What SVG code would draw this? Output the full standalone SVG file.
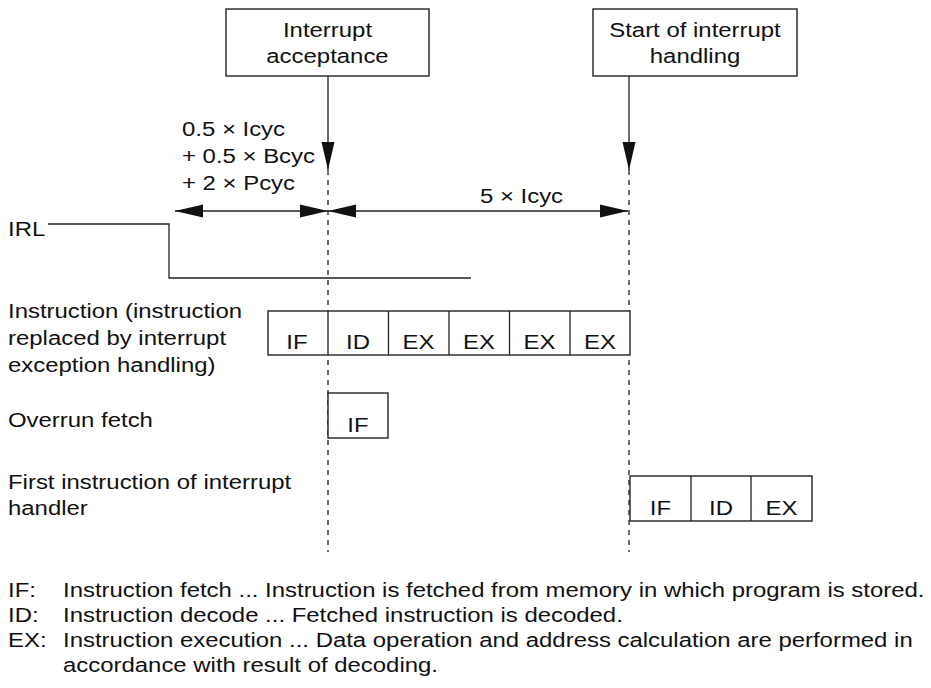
<svg xmlns="http://www.w3.org/2000/svg" width="931" height="688" viewBox="0 0 931 688">
<style>
text{font-family:"Liberation Sans",Arial,sans-serif;font-size:21px;fill:#111}
.m{text-anchor:middle}
.box{fill:#fff;stroke:#222;stroke-width:1.4}
.ln{fill:none;stroke:#222;stroke-width:1.3}
.dash{fill:none;stroke:#222;stroke-width:1.3;stroke-dasharray:5 5}
</style>
<defs>
<marker id="ah" markerUnits="userSpaceOnUse" markerWidth="30" markerHeight="14" refX="28" refY="7" orient="auto-start-reverse">
<path d="M0,0.5 L28,7 L0,13.5 z" fill="#111"/>
</marker>
</defs>
<g id="connectors">
<line class="ln" x1="328" y1="76" x2="328" y2="170" marker-end="url(#ah)"/>
<line class="ln" x1="629" y1="76" x2="629" y2="170" marker-end="url(#ah)"/>
<line class="dash" x1="328" y1="170" x2="328" y2="552"/>
<line class="dash" x1="629" y1="170" x2="629" y2="552"/>
<line class="ln" x1="175" y1="211" x2="328" y2="211" marker-start="url(#ah)" marker-end="url(#ah)"/>
<line class="ln" x1="328" y1="211" x2="628" y2="211" marker-start="url(#ah)" marker-end="url(#ah)"/>
<polyline id="irl-signal" class="ln" points="48,224 169,224 169,278 471,278"/>
</g>
<g id="interrupt-acceptance">
<rect class="box" x="226" y="9" width="203" height="67"/>
<text class="m" transform="translate(327.5,37) scale(1.14,1)">Interrupt</text>
<text class="m" transform="translate(327.5,63) scale(1.14,1)">acceptance</text>
</g>
<g id="start-of-handling">
<rect class="box" x="593" y="9" width="204" height="67"/>
<text class="m" transform="translate(695,37) scale(1.14,1)">Start of interrupt</text>
<text class="m" transform="translate(695,63) scale(1.14,1)">handling</text>
</g>
<g id="timing-labels">
<text transform="translate(182,136) scale(1.14,1)">0.5 × Icyc</text>
<text transform="translate(182,163) scale(1.14,1)">+ 0.5 × Bcyc</text>
<text transform="translate(182,190) scale(1.14,1)">+ 2 × Pcyc</text>
<text class="m" transform="translate(521.5,203) scale(1.14,1)">5 × Icyc</text>
</g>
<g id="row-labels">
<text transform="translate(8,236) scale(1.14,1)">IRL</text>
<text transform="translate(8,318) scale(1.14,1)">Instruction (instruction</text>
<text transform="translate(8,345) scale(1.14,1)">replaced by interrupt</text>
<text transform="translate(8,372) scale(1.14,1)">exception handling)</text>
<text transform="translate(8,427) scale(1.14,1)">Overrun fetch</text>
<text transform="translate(8,489) scale(1.14,1)">First instruction of interrupt</text>
<text transform="translate(8,515) scale(1.14,1)">handler</text>
</g>
<g id="instruction-row">
<rect class="box" x="268" y="311" width="362" height="44"/>
<path class="ln" d="M328,311V355M388.5,311V355M449,311V355M509.5,311V355M570,311V355"/>
<text class="m" transform="translate(297,349) scale(1.14,1)">IF</text>
<text class="m" transform="translate(358,349) scale(1.14,1)">ID</text>
<text class="m" transform="translate(418.5,349) scale(1.14,1)">EX</text>
<text class="m" transform="translate(479,349) scale(1.14,1)">EX</text>
<text class="m" transform="translate(539.5,349) scale(1.14,1)">EX</text>
<text class="m" transform="translate(600,349) scale(1.14,1)">EX</text>
</g>
<g id="overrun-fetch">
<rect class="box" x="328" y="393" width="60" height="45"/>
<text class="m" transform="translate(358,432) scale(1.14,1)">IF</text>
</g>
<g id="first-handler-instruction">
<rect class="box" x="630" y="476" width="182" height="45"/>
<path class="ln" d="M691,476V521M751,476V521"/>
<text class="m" transform="translate(660.5,515) scale(1.14,1)">IF</text>
<text class="m" transform="translate(721,515) scale(1.14,1)">ID</text>
<text class="m" transform="translate(781.5,515) scale(1.14,1)">EX</text>
</g>
<g id="legend">
<text transform="translate(8,597) scale(1.14,1)">IF:</text>
<text transform="translate(63,597) scale(1.14,1)">Instruction fetch ... Instruction is fetched from memory in which program is stored.</text>
<text transform="translate(8,622) scale(1.14,1)">ID:</text>
<text transform="translate(63,622) scale(1.14,1)">Instruction decode ... Fetched instruction is decoded.</text>
<text transform="translate(8,647) scale(1.14,1)">EX:</text>
<text transform="translate(63,647) scale(1.14,1)">Instruction execution ... Data operation and address calculation are performed in</text>
<text transform="translate(63,672) scale(1.14,1)">accordance with result of decoding.</text>
</g>
</svg>
